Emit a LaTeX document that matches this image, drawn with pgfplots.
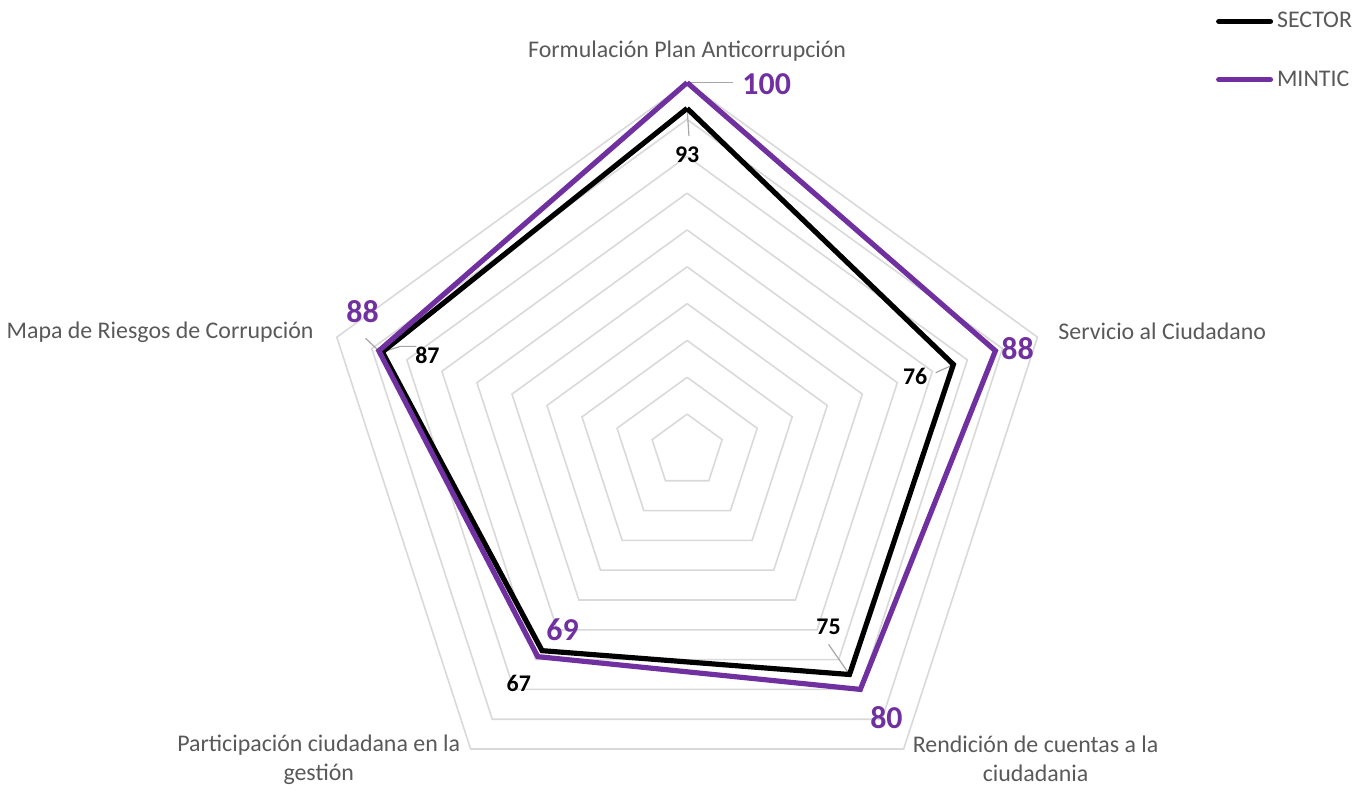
\documentclass[border=0pt]{standalone}
\usepackage{pgfplots}
\pgfplotsset{compat=1.18}
\usepackage{fontspec}
\setmainfont{Carlito}
\definecolor{mpurple}{HTML}{7030A0}
\definecolor{gridg}{HTML}{D9D9D9}
\definecolor{txtg}{HTML}{595959}
\definecolor{leadg}{HTML}{A6A6A6}
\begin{document}
\begin{tikzpicture}
\begin{axis}[
  scale only axis,
  width=678pt, height=395.5pt,
  xmin=-185.41, xmax=181.08,
  ymin=-91.35, ymax=122.43,
  hide axis, clip=false,
  legend style={at={(axis cs:143.5,120.3)}, anchor=north west, draw=none, fill=none,
     font=\fontsize{12}{14}\selectfont\color{txtg}, row sep=16pt,
     inner sep=0pt, cells={anchor=west}},
  legend image code/.code={\draw[#1, line width=2.6pt, line cap=round] (0pt,0pt) -- (26pt,0pt);},
]
\path (rel axis cs:0,0) rectangle (rel axis cs:1,1);
% grid rings
\pgfplotsinvokeforeach{10,20,30,40,50,60,70,80,90,100}{
  \addplot[gridg, line width=0.8pt, data cs=polar, forget plot]
    coordinates {(90,#1) (18,#1) (-54,#1) (-126,#1) (162,#1) (90,#1)};
}
% leader lines
\draw[leadg, line width=0.6pt] (axis cs:0,100) -- (axis cs:12.4,100);
\draw[leadg, line width=0.6pt] (axis cs:0,93) -- (axis cs:0.5,85.5);
\draw[leadg, line width=0.6pt] (axis cs:72.5,23.5) -- (axis cs:68,21.5) -- (axis cs:67.5,21.2);
\draw[leadg, line width=0.6pt] (axis cs:44.1,-60.7) -- (axis cs:38.4,-52.5);
\draw[leadg, line width=0.6pt] (axis cs:-82.7,26.9) -- (axis cs:-77.8,28.4) -- (axis cs:-73.5,28.4);
\draw[leadg, line width=0.6pt] (axis cs:-83.7,27.2) -- (axis cs:-87.3,30.6);
% series
\addplot[black, line width=2.6pt, line join=miter, data cs=polar]
  coordinates {(90,93) (18,76) (-54,75) (-126,67) (162,87) (90,93)};
\addlegendentry{SECTOR}
\addplot[mpurple, line width=2.6pt, line join=miter, data cs=polar]
  coordinates {(90,100) (18,88) (-54,80) (-126,69) (162,88) (90,100)};
\addlegendentry{MINTIC}
% category labels
\node[txtg, font=\fontsize{12}{14}\selectfont] at (axis cs:0,108.6) {Formulación Plan Anticorrupción};
\node[txtg, font=\fontsize{12}{14}\selectfont, anchor=east] at (axis cs:-99.5,32.2) {Mapa de Riesgos de Corrupción};
\node[txtg, font=\fontsize{12}{14}\selectfont, anchor=west] at (axis cs:98.9,32.4) {Servicio al Ciudadano};
\node[txtg, font=\fontsize{12}{14.5}\selectfont, align=center] at (axis cs:94.6,-83.5) {Rendición de cuentas a la\\ciudadania};
\node[txtg, font=\fontsize{12}{14.5}\selectfont, align=center] at (axis cs:-100,-83.8) {Participación ciudadana en la\\gestión};
% data labels
\node[mpurple, font=\fontsize{16}{18}\selectfont\bfseries] at (axis cs:21.6,99.7) {100};
\node[mpurple, font=\fontsize{16}{18}\selectfont\bfseries] at (axis cs:89.7,27.8) {88};
\node[mpurple, font=\fontsize{16}{18}\selectfont\bfseries] at (axis cs:54.1,-72.4) {80};
\node[mpurple, font=\fontsize{16}{18}\selectfont\bfseries] at (axis cs:-33.8,-48.6) {69};
\node[mpurple, font=\fontsize{16}{18}\selectfont\bfseries] at (axis cs:-88.1,37.8) {88};
\node[black, font=\fontsize{12}{14}\selectfont\bfseries] at (axis cs:0,80.3) {93};
\node[black, font=\fontsize{12}{14}\selectfont\bfseries] at (axis cs:61.9,20.3) {76};
\node[black, font=\fontsize{12}{14}\selectfont\bfseries] at (axis cs:38.4,-47.8) {75};
\node[black, font=\fontsize{12}{14}\selectfont\bfseries] at (axis cs:-45.7,-63) {67};
\node[black, font=\fontsize{12}{14}\selectfont\bfseries] at (axis cs:-70.5,25.9) {87};
\end{axis}
\end{tikzpicture}
\end{document}
